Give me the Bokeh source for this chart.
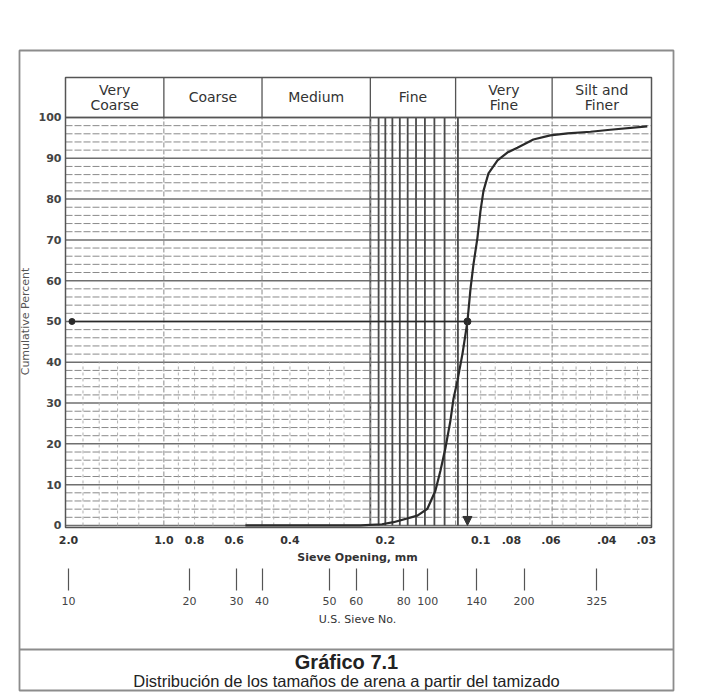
import math
from bokeh.plotting import figure
from bokeh.models import (Range1d, FixedTicker, LogAxis, Label, Arrow, NormalHead,
                          ColumnDataSource, Span)
from bokeh.core.properties import value
from bokeh.embed import file_html
from bokeh.resources import INLINE

# Cumulative grain-size curve: sieve opening (mm) vs cumulative percent
size_mm = [0.553, 0.24, 0.205, 0.1885, 0.1584, 0.1473, 0.139, 0.134, 0.1292,
           0.1246, 0.1219, 0.1184, 0.1142, 0.1101, 0.1077, 0.1054, 0.1024,
           0.1002, 0.098, 0.0945, 0.0885, 0.0824, 0.0766, 0.0682, 0.0603,
           0.0532, 0.045, 0.039, 0.0298]
cum_pct = [0, 0, 0.3, 0.8, 2.4, 4.1, 8.5, 13.4, 19, 25.7, 31, 35.5, 42, 50,
           58, 64, 70.5, 77, 82, 86.3, 89.5, 91.4, 92.6, 94.6, 95.6, 96.1,
           96.5, 97.0, 97.8]

# Median grain size (50 % point)
d50_mm = 0.1101
d50_pct = 50
ref_start_mm = 1.95

# Size classes shown in the header band
class_names = ["Very\nCoarse", "Coarse", "Medium", "Fine", "Very\nFine", "Silt and\nFiner"]
class_bounds_mm = [1.0, 0.49, 0.223, 0.12, 0.0595]

# Sieve opening axis
mm_ticks = [2.0, 1.0, 0.8, 0.6, 0.4, 0.2, 0.1, 0.08, 0.06, 0.04, 0.03]
mm_labels = ["2.0", "1.0", "0.8", "0.6", "0.4", "0.2", "0.1", ".08", ".06", ".04", ".03"]

# U.S. sieve numbers and their opening on the mm scale
sieve_no = ["10", "20", "30", "40", "50", "60", "80", "100", "140", "200", "325"]
sieve_mm = [2.0, 0.83, 0.59, 0.49, 0.30, 0.247, 0.175, 0.147, 0.103, 0.073, 0.043]

# Rulings of the chart paper
pct_major = list(range(0, 101, 10))
pct_minor = [v for v in range(0, 101, 2) if v % 10]
fine_grid_mm = [0.223, 0.21, 0.20, 0.19, 0.18, 0.17, 0.16, 0.15, 0.14, 0.13, 0.118]
light_grid_mm = [1.8, 1.6, 1.4, 1.2, 0.9, 0.8, 0.7, 0.6, 0.55, 0.45, 0.4, 0.35,
                 0.3, 0.27, 0.1, 0.09, 0.08, 0.07, 0.065, 0.055, 0.05, 0.045,
                 0.04, 0.035, 0.032]

y_title = "Cumulative Percent"
x_title = "Sieve Opening, mm"
sieve_title = "U.S. Sieve No."
caption_title = "Gráfico 7.1"
caption_text = "Distribución de los tamaños de arena a partir del tamizado"

# Chart limits (data) and where the chart and the outer frame sit on the page (px)
X_START, X_END = 2.044, 0.0289
Y_BOTTOM, Y_TOP = -0.5, 109.8
W, H = 714, 697
CH_L, CH_R, CH_T, CH_B = 65, 651, 77, 527
BOX_L, BOX_R, BOX_T, BOX_B = 19, 673, 50, 690


def x_at(px):
    """Data x (mm, log scale) that lands on pixel column px."""
    l0, l1 = math.log10(X_START), math.log10(X_END)
    return 10 ** (l0 + (px - CH_L) / (CH_R - CH_L) * (l1 - l0))


def y_at(py):
    """Data y (percent) that lands on pixel row py."""
    return Y_BOTTOM + (CH_B - py) / (CH_B - CH_T) * (Y_TOP - Y_BOTTOM)


FONT = "DejaVu Sans"
INK = "#333333"
RULE = "#6f6f6f"

p = figure(width=W, height=H, x_axis_type="log",
           x_range=Range1d(x_at(BOX_L), x_at(BOX_R)),
           y_range=Range1d(y_at(BOX_B), y_at(BOX_T)),
           output_backend="svg", toolbar_location=None,
           min_border_left=BOX_L, min_border_right=W - BOX_R,
           min_border_top=BOX_T, min_border_bottom=H - BOX_B)
p.background_fill_color = "white"
p.border_fill_color = "white"
p.outline_line_color = "#8c8c8c"
p.outline_line_width = 1.8
p.xgrid.visible = False
p.ygrid.visible = False

n_maj, n_min = len(pct_major), len(pct_minor)

# Horizontal rulings
p.segment(x0=[X_START] * n_min, y0=pct_minor, x1=[X_END] * n_min, y1=pct_minor,
          line_color="#8a8a8a", line_width=1.0, line_dash="7 2")
p.segment(x0=[X_START] * n_maj, y0=pct_major, x1=[X_END] * n_maj, y1=pct_major,
          line_color=RULE, line_width=1.5)

# Vertical rulings
p.segment(x0=light_grid_mm, y0=[0] * len(light_grid_mm), x1=light_grid_mm,
          y1=[40] * len(light_grid_mm), line_color="#b0b0b0", line_width=1,
          line_dash="3 3")
p.segment(x0=fine_grid_mm, y0=[0] * len(fine_grid_mm), x1=fine_grid_mm,
          y1=[100] * len(fine_grid_mm), line_color="#4a4a4a", line_width=1.8)
p.segment(x0=class_bounds_mm, y0=[0] * len(class_bounds_mm), x1=class_bounds_mm,
          y1=[100] * len(class_bounds_mm), line_color="#8a8a8a", line_width=1,
          line_dash="5 2")

# Header band with the size classes
p.segment(x0=class_bounds_mm, y0=[100] * len(class_bounds_mm), x1=class_bounds_mm,
          y1=[Y_TOP] * len(class_bounds_mm), line_color="#555555", line_width=1.3)
p.segment(x0=[X_START], y0=[100], x1=[X_END], y1=[100], line_color="#555555", line_width=1.4)
edges = [X_START] + class_bounds_mm + [X_END]
centers = [(a * b) ** 0.5 for a, b in zip(edges[:-1], edges[1:])]
header = ColumnDataSource(dict(x=centers, y=[104.9] * len(centers), t=class_names))
p.text(x="x", y="y", text="t", source=header, text_align="center",
       text_baseline="middle", text_font=value(FONT), text_font_size="14px",
       text_color=INK, text_line_height=0.95)

# Chart border
p.quad(left=[X_START], right=[X_END], bottom=[Y_BOTTOM], top=[Y_TOP],
       fill_color=None, line_color="#555555", line_width=1.5)

# Median reference lines
p.line(x=[ref_start_mm, d50_mm], y=[d50_pct, d50_pct], line_color="#2a2a2a", line_width=1.6)
p.scatter(x=[ref_start_mm], y=[d50_pct], size=6, color="#2a2a2a")
p.add_layout(Arrow(end=NormalHead(size=9, fill_color="#333333", line_color="#333333"),
                   x_start=d50_mm, y_start=d50_pct, x_end=d50_mm, y_end=0,
                   line_color="#333333", line_width=1.2))

# Cumulative curve
p.line(x=size_mm, y=cum_pct, line_color="#2a2a2a", line_width=2.2)
p.scatter(x=[d50_mm], y=[d50_pct], size=7, color="#2a2a2a")

# Percent axis on the chart's left edge
yax = p.yaxis[0]
yax.fixed_location = X_START
yax.ticker = FixedTicker(ticks=pct_major)
yax.axis_line_color = None
yax.major_tick_out = 0
yax.major_tick_in = 0
yax.minor_tick_out = 0
yax.minor_tick_in = 0
yax.major_label_standoff = 4
yax.major_label_text_font = FONT
yax.major_label_text_font_size = "11px"
yax.major_label_text_font_style = "bold"
yax.major_label_text_color = "#444444"

# Sieve opening axis on the chart's bottom edge
xax = p.xaxis[0]
xax.fixed_location = Y_BOTTOM
xax.ticker = FixedTicker(ticks=mm_ticks)
xax.major_label_overrides = {t: l for t, l in zip(mm_ticks, mm_labels)}
xax.axis_line_color = None
xax.major_tick_out = 0
xax.major_tick_in = 0
xax.minor_tick_out = 0
xax.minor_tick_in = 0
xax.major_label_standoff = 8
xax.major_label_text_font = FONT
xax.major_label_text_font_size = "11px"
xax.major_label_text_font_style = "bold"
xax.major_label_text_color = INK

# U.S. sieve number scale below it
sieve_axis = LogAxis(ticker=FixedTicker(ticks=sieve_mm),
                     major_label_overrides={m: n for m, n in zip(sieve_mm, sieve_no)},
                     fixed_location=y_at(568))
sieve_axis.axis_line_color = None
sieve_axis.major_tick_out = 22
sieve_axis.major_tick_in = 0
sieve_axis.major_tick_line_color = "#555555"
sieve_axis.major_tick_line_width = 1.2
sieve_axis.minor_tick_out = 0
sieve_axis.minor_tick_in = 0
sieve_axis.major_label_standoff = 6
sieve_axis.major_label_text_font = FONT
sieve_axis.major_label_text_font_size = "11px"
sieve_axis.major_label_text_color = "#444444"
p.add_layout(sieve_axis, "below")

# Axis titles, centred on the chart
p.add_layout(Label(x=x_at(25), y=d50_pct, text=y_title, angle=math.pi / 2,
                   text_align="center", text_baseline="middle",
                   text_font=FONT, text_font_size="11px", text_color="#555555"))
p.add_layout(Label(x=x_at(357), y=y_at(557), text=x_title,
                   text_align="center", text_baseline="middle",
                   text_font=FONT, text_font_size="11px", text_font_style="bold",
                   text_color=INK))
p.add_layout(Label(x=x_at(357), y=y_at(619), text=sieve_title,
                   text_align="center", text_baseline="middle",
                   text_font=FONT, text_font_size="11px", text_color=INK))

# Caption box
p.add_layout(Span(location=y_at(649), dimension="width", line_color="#8c8c8c", line_width=1.8))
p.add_layout(Label(x=x_at(346), y=y_at(661), text=caption_title,
                   text_align="center", text_baseline="middle",
                   text_font="Liberation Sans", text_font_size="20px",
                   text_font_style="bold", text_color="#222222"))
p.add_layout(Label(x=x_at(346), y=y_at(680), text=caption_text,
                   text_align="center", text_baseline="middle",
                   text_font="Liberation Sans", text_font_size="16.5px",
                   text_color="#222222"))

open("out.html", "w").write(file_html(p, INLINE))
